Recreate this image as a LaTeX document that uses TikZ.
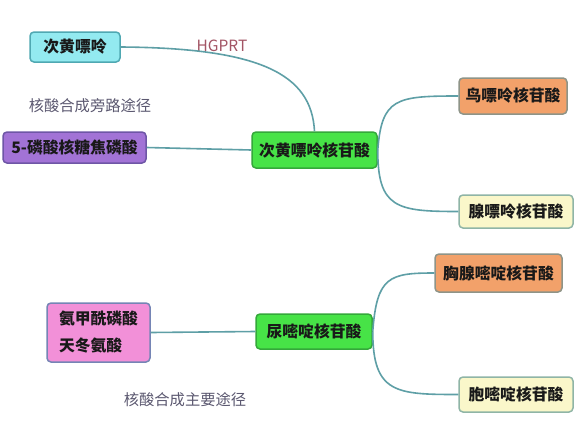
\documentclass[tikz,border=0pt]{standalone}
\usepackage{fontspec}
\setmainfont{Noto Sans CJK SC}
\newfontfamily\cjk{Noto Sans CJK SC}
\definecolor{linec}{HTML}{5E9FA6}
\definecolor{cyanf}{HTML}{93EAF0}
\definecolor{cyand}{HTML}{4FA8B2}
\definecolor{purf}{HTML}{A273D6}
\definecolor{purd}{HTML}{6E56A6}
\definecolor{grnf}{HTML}{47E347}
\definecolor{grnd}{HTML}{34A83A}
\definecolor{orgf}{HTML}{F2A16A}
\definecolor{orgd}{HTML}{8E9488}
\definecolor{yelf}{HTML}{FAF7CA}
\definecolor{yeld}{HTML}{8FB5A6}
\definecolor{pnkf}{HTML}{F290D8}
\definecolor{pnkd}{HTML}{7585B5}
\definecolor{labc}{HTML}{5B5870}
\definecolor{hgc}{HTML}{A35565}
\tikzset{
  box/.style={draw, rounded corners=4pt, line width=1.5pt, font=\cjk\bfseries\fontsize{15.8}{18}\selectfont, text=black!90, inner sep=0pt},
  conn/.style={draw=linec, line width=1.6pt},
  lab/.style={font=\cjk\fontsize{15.3}{18}\selectfont, text=labc, inner sep=0pt}
}
\begin{document}
\begin{tikzpicture}[x=1pt,y=-1pt]
\useasboundingbox (0,0) rectangle (586,426);
\fill[white] (0,0) rectangle (586,426);
% top group
\node[box, fill=cyanf, draw=cyand, minimum width=90pt, minimum height=30pt] (hx) at (75,47) {次黄嘌呤};
\node[box, fill=purf, draw=purd, minimum width=143pt, minimum height=31pt] (prpp) at (74.5,147.5) {5-磷酸核糖焦磷酸};
\node[box, fill=grnf, draw=grnd, minimum width=125pt, minimum height=36pt] (imp) at (314.5,150) {次黄嘌呤核苷酸};
\node[box, fill=orgf, draw=orgd, minimum width=108pt, minimum height=36pt] (gmp) at (513,96) {鸟嘌呤核苷酸};
\node[box, fill=yelf, draw=yeld, minimum width=114pt, minimum height=33pt] (amp) at (516,211.5) {腺嘌呤核苷酸};
\node[lab, text=hgc, font=\cjk\fontsize{15.5}{18}\selectfont] (hg) at (222,46) {HGPRT};
\node[lab] (l1) at (90,106) {核酸合成旁路途径};
% bottom group
\node[box, fill=pnkf, draw=pnkd, minimum width=103pt, minimum height=59pt, align=left, font=\cjk\bfseries\fontsize{15.8}{27}\selectfont] (pk) at (98.5,332.5) {氨甲酰磷酸\\天冬氨酸};
\node[box, fill=grnf, draw=grnd, minimum width=116pt, minimum height=35pt] (ump) at (314,331.5) {尿嘧啶核苷酸};
\node[box, fill=orgf, draw=orgd, minimum width=127pt, minimum height=38pt] (tmp) at (498.5,273) {胸腺嘧啶核苷酸};
\node[box, fill=yelf, draw=yeld, minimum width=114pt, minimum height=35pt] (cmp) at (516,394.5) {胞嘧啶核苷酸};
\node[lab] (l2) at (185,400) {核酸合成主要途径};
% connectors
\draw[conn] (hx.east) .. controls +(140,1) and +(-3,-57) .. (imp.north);
\draw[conn] (prpp.east) -- (imp.west);
\draw[conn] (imp.east) .. controls +(4,-52) and +(-62,0) .. (gmp.west);
\draw[conn] (imp.east) .. controls +(0,58) and +(-62,0) .. (amp.west);
\draw[conn] (pk.east) -- (ump.west);
\draw[conn] (ump.east) .. controls +(4,-55) and +(-45,0) .. (tmp.west);
\draw[conn] (ump.east) .. controls +(0,62) and +(-62,0) .. (cmp.west);
\end{tikzpicture}
\end{document}
